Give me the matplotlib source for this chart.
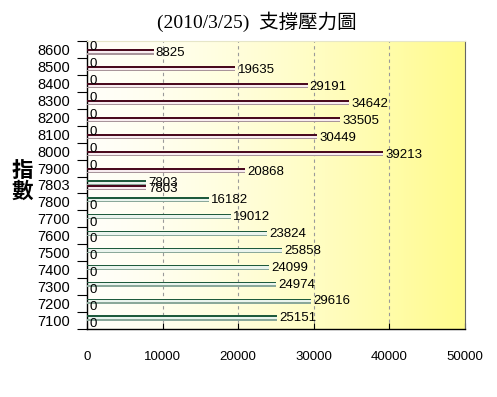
import numpy as np
import matplotlib
matplotlib.use("Agg")
import matplotlib.pyplot as plt

# ---- data ----
categories = ["7100", "7200", "7300", "7400", "7500", "7600", "7700", "7800",
              "7803", "7900", "8000", "8100", "8200", "8300", "8400", "8500", "8600"]
support = [25151, 29616, 24974, 24099, 25858, 23824, 19012, 16182,
           7803, 0, 0, 0, 0, 0, 0, 0, 0]
resistance = [0, 0, 0, 0, 0, 0, 0, 0,
              7803, 20868, 39213, 30449, 33505, 34642, 29191, 19635, 8825]
x_ticks = [0, 10000, 20000, 30000, 40000, 50000]
title = "(2010/3/25)  支撐壓力圖"
ylabel = "指\n數"

num_font = "Liberation Sans"

W, H = 497, 397
fig = plt.figure(figsize=(W / 100, H / 100), dpi=100)
fig.patch.set_facecolor("white")
ax = fig.add_axes([87 / W, 1 - 329 / H, (465 - 87) / W, (329 - 41) / H])

n = len(categories)
y = np.arange(n)
ax.set_xlim(0, 50000)
ax.set_ylim(-0.5, n - 0.5)

# gradient background
grad = np.linspace(0, 1, 256) ** 1.4
c0 = np.array([1.0, 1.0, 0.975])
c1 = np.array([1.0, 0.985, 0.55])
img = c0[None, None, :] * (1 - grad)[None, :, None] + c1[None, None, :] * grad[None, :, None]
ax.imshow(img, extent=[0, 50000, -0.5, n - 0.5], aspect="auto", zorder=0, interpolation="bilinear")

# grid
for xv in x_ticks[1:-1]:
    ax.axvline(xv, color="#9a9a9a", lw=0.8, ls=(0, (3, 3)), zorder=1)

bh = 0.3
off = 0.15

def draw_series(vals, yc, dark, light, bottom):
    ax.barh(yc, vals, height=bh, left=0, color=light, zorder=2, linewidth=0)
    ax.barh(yc + bh / 2 - 0.05, vals, height=0.1, left=0, color=dark, zorder=3, linewidth=0)
    ax.barh(yc - bh / 2 + 0.035, vals, height=0.07, left=0, color=bottom, zorder=3, linewidth=0)

y_sup = y + off
y_res = y - off
draw_series(support, y_sup, "#1e5a3c", "#eaf4ee", "#8aa89a")
draw_series(resistance, y_res, "#4a0a1e", "#f8ecf0", "#a8949a")

for yy, v in zip(y_sup, support):
    ax.annotate(str(v), (v, yy), xytext=(1.5, -0.3), textcoords="offset points",
                ha="left", va="center", fontsize=9.5, family=num_font, zorder=5)
for yy, v in zip(y_res, resistance):
    ax.annotate(str(v), (v, yy), xytext=(1.5, -0.8), textcoords="offset points",
                ha="left", va="center", fontsize=9.5, family=num_font, zorder=5)

# y axis ticks: marks at boundaries, labels at centers
ax.set_yticks(np.arange(n + 1) - 0.5)
ax.set_yticklabels([])
ax.tick_params(axis="y", which="major", direction="out", length=7, width=0.8, color="black")
ax.set_yticks(y, minor=True)
ax.set_yticklabels(categories, minor=True, fontsize=10.5, family=num_font)
ax.tick_params(axis="y", which="minor", length=0, pad=12)

ax.set_xticks(x_ticks)
ax.set_xticklabels([str(v) for v in x_ticks], fontsize=9.5, family=num_font)
ax.tick_params(axis="x", direction="in", length=4, width=0.8, pad=16)

for s in ["left", "bottom"]:
    ax.spines[s].set_color("black")
    ax.spines[s].set_linewidth(1.0)
ax.spines["right"].set_color("#666666")
ax.spines["right"].set_linewidth(0.8)
ax.spines["top"].set_color("#e6e6c8")
ax.spines["top"].set_linewidth(0.8)

fig.text(257 / W, 1 - 22 / H, title, ha="center", va="center", fontsize=14,
         family=["Liberation Serif", "Noto Sans CJK TC"])
fig.text(22 / W, 1 - 181 / H, ylabel, ha="center", va="center", fontsize=15.5,
         fontweight="bold", family=["Noto Sans CJK TC"], linespacing=1.0)

fig.savefig("out.png", dpi=100)
